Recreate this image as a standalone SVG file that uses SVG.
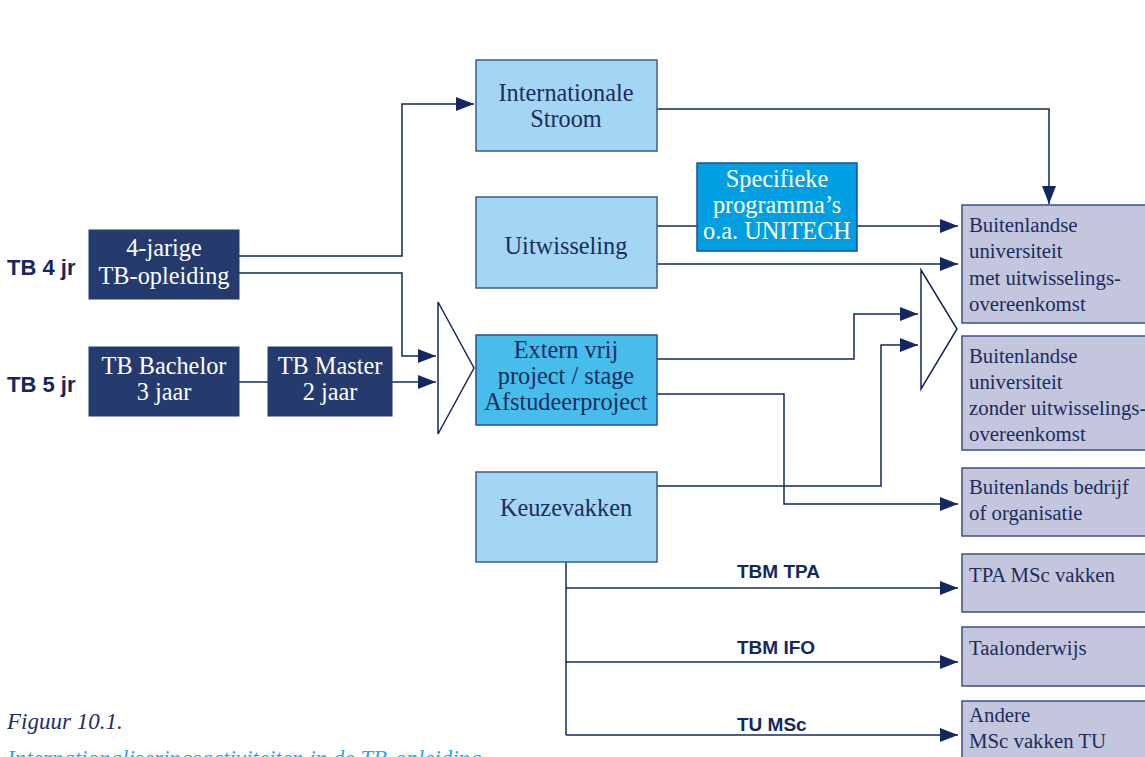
<svg xmlns="http://www.w3.org/2000/svg" width="1145" height="757" viewBox="0 0 1145 757">
  <style>
    .bg { fill: #ffffff; }
    .dark { fill: #253b6e; stroke: #253b6e; stroke-width: 1; }
    .light { fill: #a3d6f2; stroke: #3b5a93; stroke-width: 1.5; }
    .mid { fill: #47bdeb; stroke: #2a4f8c; stroke-width: 1.5; }
    .cyan { fill: #009fe1; stroke: #1f4f8f; stroke-width: 1.5; }
    .dest { fill: #c4c6dd; stroke: #3d4f82; stroke-width: 1.5; }
    .funnel { fill: #ffffff; stroke: #13285e; stroke-width: 1.5; }
    .serif { font-family: "Liberation Serif", "Times New Roman", serif; }
    .t-in { font-size: 24.3px; fill: #1b2c5e; text-anchor: middle; }
    .t-wh { font-size: 24.3px; fill: #ffffff; text-anchor: middle; }
    .t-dest { font-size: 20.8px; fill: #1b2c5e; }
    .sans { font-family: "Liberation Sans", Arial, sans-serif; font-weight: bold; fill: #13285e; }
    .wire { fill: none; stroke: #13285e; stroke-width: 1.5; }
  </style>
  <defs>
    <marker id="arrow" markerUnits="userSpaceOnUse" markerWidth="19" markerHeight="15" refX="18" refY="7" orient="auto">
      <path d="M0,0 L18,7 L0,14 z" fill="#13285e"/>
    </marker>
  </defs>

  <rect class="bg" x="0" y="0" width="1145" height="757"/>

  <!-- row labels -->
  <text class="sans" x="7" y="275" font-size="22">TB 4 jr</text>
  <text class="sans" x="7" y="392" font-size="22">TB 5 jr</text>

  <!-- connectors -->
  <g id="connectors">
    <path class="wire" d="M239,256 H402 V104 H474" marker-end="url(#arrow)"/>
    <path class="wire" d="M239,273 H402 V356 H436" marker-end="url(#arrow)"/>
    <path class="wire" d="M239,382 H268"/>
    <path class="wire" d="M392,382 H436" marker-end="url(#arrow)"/>
    <path class="wire" d="M657,109 H1049 V204" marker-end="url(#arrow)"/>
    <path class="wire" d="M657,226 H697"/>
    <path class="wire" d="M857,226 H958" marker-end="url(#arrow)"/>
    <path class="wire" d="M657,264 H958" marker-end="url(#arrow)"/>
    <path class="wire" d="M657,359 H854 V314 H918" marker-end="url(#arrow)"/>
    <path class="wire" d="M657,486 H881 V345 H918" marker-end="url(#arrow)"/>
    <path class="wire" d="M657,394 H784 V504 H958" marker-end="url(#arrow)"/>
    <path class="wire" d="M566,562 V735"/>
    <path class="wire" d="M566,588 H958" marker-end="url(#arrow)"/>
    <path class="wire" d="M566,662 H958" marker-end="url(#arrow)"/>
    <path class="wire" d="M566,735 H958" marker-end="url(#arrow)"/>
    <text class="sans" x="737" y="578" font-size="19">TBM TPA</text>
    <text class="sans" x="737" y="654" font-size="19">TBM IFO</text>
    <text class="sans" x="737" y="731" font-size="19">TU MSc</text>
  </g>

  <!-- merge funnels -->
  <g id="funnel-in">
    <polygon class="funnel" points="438,302 438,434 474,368"/>
  </g>
  <g id="funnel-out">
    <polygon class="funnel" points="921,270 921,389 957,329"/>
  </g>

  <!-- study programmes -->
  <g id="tb-4jarig">
    <rect class="dark" x="89" y="230" width="150" height="69"/>
    <text class="serif t-wh" x="164" y="256">4-jarige</text>
    <text class="serif t-wh" x="164" y="284">TB-opleiding</text>
  </g>
  <g id="tb-bachelor">
    <rect class="dark" x="89" y="347" width="150" height="69"/>
    <text class="serif t-wh" x="164" y="374">TB Bachelor</text>
    <text class="serif t-wh" x="164" y="400">3 jaar</text>
  </g>
  <g id="tb-master">
    <rect class="dark" x="268" y="347" width="124" height="69"/>
    <text class="serif t-wh" x="330" y="374">TB Master</text>
    <text class="serif t-wh" x="330" y="400">2 jaar</text>
  </g>

  <!-- activities -->
  <g id="internationale-stroom">
    <rect class="light" x="476" y="60" width="181" height="91"/>
    <text class="serif t-in" x="566" y="101">Internationale</text>
    <text class="serif t-in" x="566" y="127">Stroom</text>
  </g>
  <g id="uitwisseling">
    <rect class="light" x="476" y="197" width="181" height="91"/>
    <text class="serif t-in" x="566" y="254">Uitwisseling</text>
  </g>
  <g id="specifieke-programmas">
    <rect class="cyan" x="697" y="163" width="160" height="88"/>
    <text class="serif t-wh" x="777" y="187">Specifieke</text>
    <text class="serif t-wh" x="777" y="213">programma’s</text>
    <text class="serif t-wh" x="777" y="239">o.a. UNITECH</text>
  </g>
  <g id="extern-project">
    <rect class="mid" x="476" y="335" width="181" height="90"/>
    <text class="serif t-in" x="566" y="358">Extern vrij</text>
    <text class="serif t-in" x="566" y="384">project / stage</text>
    <text class="serif t-in" x="566" y="410">Afstudeerproject</text>
  </g>
  <g id="keuzevakken">
    <rect class="light" x="476" y="472" width="181" height="90"/>
    <text class="serif t-in" x="566" y="516">Keuzevakken</text>
  </g>

  <!-- destinations -->
  <g id="uni-met-overeenkomst">
    <rect class="dest" x="962" y="205" width="200" height="118"/>
    <text class="serif t-dest" x="969" y="232">Buitenlandse</text>
    <text class="serif t-dest" x="969" y="258">universiteit</text>
    <text class="serif t-dest" x="969" y="285">met uitwisselings-</text>
    <text class="serif t-dest" x="969" y="311">overeenkomst</text>
  </g>
  <g id="uni-zonder-overeenkomst">
    <rect class="dest" x="962" y="336" width="200" height="114"/>
    <text class="serif t-dest" x="969" y="363">Buitenlandse</text>
    <text class="serif t-dest" x="969" y="389">universiteit</text>
    <text class="serif t-dest" x="969" y="415">zonder uitwisselings-</text>
    <text class="serif t-dest" x="969" y="441">overeenkomst</text>
  </g>
  <g id="bedrijf">
    <rect class="dest" x="962" y="468" width="200" height="68"/>
    <text class="serif t-dest" x="969" y="494">Buitenlands bedrijf</text>
    <text class="serif t-dest" x="969" y="520">of organisatie</text>
  </g>
  <g id="tpa-msc">
    <rect class="dest" x="962" y="554" width="200" height="58"/>
    <text class="serif t-dest" x="969" y="582">TPA MSc vakken</text>
  </g>
  <g id="taalonderwijs">
    <rect class="dest" x="962" y="627" width="200" height="59"/>
    <text class="serif t-dest" x="969" y="655">Taalonderwijs</text>
  </g>
  <g id="andere-msc">
    <rect class="dest" x="962" y="701" width="200" height="70"/>
    <text class="serif t-dest" x="969" y="722">Andere</text>
    <text class="serif t-dest" x="969" y="748">MSc vakken TU</text>
  </g>

  <!-- caption -->
  <text class="serif" x="7" y="729" font-size="23" font-style="italic" fill="#1d2f63">Figuur 10.1.</text>
  <text class="serif" x="7" y="766" font-size="23" font-style="italic" fill="#2ba7e1">Internationaliseringsactiviteiten in de TB-opleiding</text>
</svg>
